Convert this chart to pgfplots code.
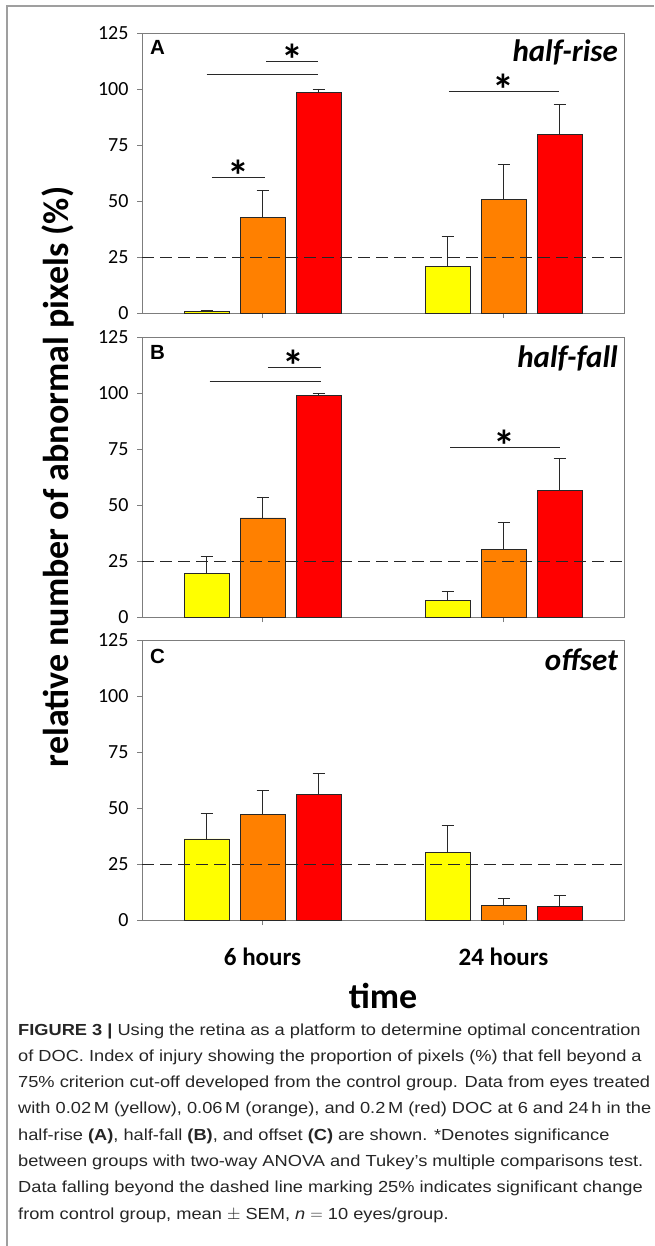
\documentclass[border=0pt]{standalone}
\usepackage{fontspec}
\setmainfont{Carlito}
\newfontfamily\capfont[FakeStretch=1.14]{Liberation Sans}
\newfontfamily\labfont{Liberation Sans}
\usepackage{pgfplots}
\usepackage{pgfplotstable}
\pgfplotsset{compat=1.18}
\definecolor{cyel}{RGB}{255,255,0}
\definecolor{corg}{RGB}{255,128,0}
\definecolor{cred}{RGB}{255,0,0}
\definecolor{edge}{RGB}{40,40,40}
\definecolor{axgray}{RGB}{125,125,125}

\pgfplotstableread{
x yel yele org orge red rede
0 0.7 0.3 42.7 12.1 98.5 1.5
1 20.8 13.3 50.7 15.8 79.9 13.4
}\dataA
\pgfplotstableread{
x yel yele org orge red rede
0 19.3 7.9 44.2 9.4 99.0 0.7
1 7.4 3.9 30.1 12.2 56.3 14.3
}\dataB
\pgfplotstableread{
x yel yele org orge red rede
0 36.2 11.4 47.3 10.6 56.0 9.6
1 30.1 12.3 6.4 3.3 6.25 4.75
}\dataC

\pgfplotsset{
  panel/.style={
    scale only axis, width=482pt, height=280pt,
    xmin=-0.5, xmax=1.5, ymin=0, ymax=125,
    ytick={0,25,...,125}, xtick={0,1},
    xtick pos=bottom, ytick pos=left,
    ybar=11pt, bar width=45pt,
    axis line style={axgray, line width=0.9pt},
    tick style={axgray, line width=0.9pt},
    tick align=outside, major tick length=5pt,
    yticklabel style={font=\fontsize{20}{20}\selectfont, anchor=east, xshift=-5pt},
    xticklabel style={font=\bfseries\fontsize{25}{25}\selectfont, anchor=base, yshift=-40pt},
    /pgf/number format/assume math mode=true,
    clip=false,
    error bars/y dir=plus, error bars/y explicit,
    error bars/error bar style={edge, line width=0.8pt},
    error bars/error mark options={edge, line width=0.8pt, mark size=6pt, rotate=90},
  },
  yelbar/.style={fill=cyel, draw=edge, line width=0.8pt},
  orgbar/.style={fill=corg, draw=edge, line width=0.8pt},
  redbar/.style={fill=cred, draw=edge, line width=0.8pt},
}
\tikzset{
  dashref/.style={dash pattern=on 12pt off 6pt, line width=1pt, black!85},
  sig/.style={edge, line width=0.9pt},
  star/.style={font=\bfseries\fontsize{44}{44}\selectfont, anchor=base, inner sep=0pt, yshift=-14pt},
  plab/.style={font=\labfont\bfseries\fontsize{20.5}{20.5}\selectfont, anchor=base west, inner sep=0pt},
  ptit/.style={font=\bfseries\itshape\fontsize{31}{31}\selectfont, anchor=base east, inner sep=0pt},
}

\begin{document}
\begin{tikzpicture}[x=1pt,y=1pt]
\useasboundingbox (0,0) rectangle (654,-1246);
\fill[white] (0,0) rectangle (654,-1246);
\draw[gray!75, line width=1.2pt] (7,-1246) -- (7,-6) -- (654,-6);

% Panel A
\begin{axis}[panel, at={(142pt,-313pt)}, anchor=south west, xticklabels={}]
\addplot[yelbar] table[x=x, y=yel, y error=yele] {\dataA};
\addplot[orgbar] table[x=x, y=org, y error=orge] {\dataA};
\addplot[redbar] table[x=x, y=red, y error=rede] {\dataA};
\draw[dashref] (axis cs:-0.5,25) -- (axis cs:1.5,25);
\draw[sig] (axis cs:0.015,112.3) -- (axis cs:0.232,112.3);
\node[star] at (axis cs:0.124,112.3) {*};
\draw[sig] (axis cs:-0.232,106.4) -- (axis cs:0.232,106.4);
\draw[sig] (axis cs:-0.21,60.6) -- (axis cs:0.009,60.6);
\node[star] at (axis cs:-0.1,60.6) {*};
\draw[sig] (axis cs:0.773,98.8) -- (axis cs:1.23,98.8);
\node[star] at (axis cs:1.0,98.8) {*};
\node[plab] at ([xshift=8pt,yshift=-22pt]axis cs:-0.5,125) {A};
\node[ptit] at ([xshift=-6pt,yshift=-29pt]axis cs:1.5,125) {half-rise};
\end{axis}

% Panel B
\begin{axis}[panel, at={(142pt,-617pt)}, anchor=south west, xticklabels={}]
\addplot[yelbar] table[x=x, y=yel, y error=yele] {\dataB};
\addplot[orgbar] table[x=x, y=org, y error=orge] {\dataB};
\addplot[redbar] table[x=x, y=red, y error=rede] {\dataB};
\draw[dashref] (axis cs:-0.5,25) -- (axis cs:1.5,25);
\draw[sig] (axis cs:0.022,111.2) -- (axis cs:0.243,111.2);
\node[star] at (axis cs:0.13,111.2) {*};
\draw[sig] (axis cs:-0.219,105.1) -- (axis cs:0.243,105.1);
\draw[sig] (axis cs:0.778,75.6) -- (axis cs:1.236,75.6);
\node[star] at (axis cs:1.005,75.6) {*};
\node[plab] at ([xshift=8pt,yshift=-22pt]axis cs:-0.5,125) {B};
\node[ptit] at ([xshift=-6pt,yshift=-30pt]axis cs:1.5,125) {half-fall};
\end{axis}

% Panel C
\begin{axis}[panel, at={(142pt,-920pt)}, anchor=south west, xticklabels={6 hours, 24 hours}]
\addplot[yelbar] table[x=x, y=yel, y error=yele] {\dataC};
\addplot[orgbar] table[x=x, y=org, y error=orge] {\dataC};
\addplot[redbar] table[x=x, y=red, y error=rede] {\dataC};
\draw[dashref] (axis cs:-0.5,25) -- (axis cs:1.5,25);
\node[plab] at ([xshift=8pt,yshift=-23pt]axis cs:-0.5,125) {C};
\node[ptit] at ([xshift=-6pt,yshift=-30pt]axis cs:1.5,125) {offset};
\end{axis}

\node[rotate=90, anchor=base, font=\bfseries\fontsize{36}{36}\selectfont, inner sep=0pt] at (68,-477) {relative number of abnormal pixels (\%)};
\node[anchor=base, font=\bfseries\fontsize{36}{36}\selectfont, inner sep=0pt] at (383,-1008) {time};

\begin{scope}[every node/.style={anchor=base west, inner sep=0pt, font=\capfont\fontsize{16}{16}\selectfont, text=black!85}]
\node at (18,-1035) {\textbf{FIGURE 3 |} Using the retina as a platform to determine optimal concentration};
\node at (18,-1061.3) {of DOC. Index of injury showing the proportion of pixels (\%) that fell beyond a};
\node at (18,-1087.6) {75\% criterion cut-off developed from the control group. Data from eyes treated};
\node at (18,-1113.9) {with 0.02\,M (yellow), 0.06\,M (orange), and 0.2\,M (red) DOC at 6 and 24\,h in the};
\node at (18,-1140.2) {half-rise \textbf{(A)}, half-fall \textbf{(B)}, and offset \textbf{(C)} are shown. *Denotes significance};
\node at (18,-1166.5) {between groups with two-way ANOVA and Tukey’s multiple comparisons test.};
\node at (18,-1192.8) {Data falling beyond the dashed line marking 25\% indicates significant change};
\node at (18,-1219.1) {from control group, mean $\pm$ SEM, \textit{n} $=$ 10 eyes/group.};
\end{scope}
\end{tikzpicture}
\end{document}
